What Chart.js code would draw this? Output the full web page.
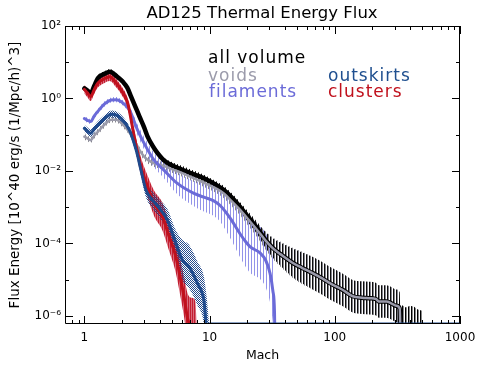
<!DOCTYPE html>
<html><head><meta charset="utf-8">
<script src="https://cdn.jsdelivr.net/npm/chart.js@4/dist/chart.umd.min.js"></script>
<style>
html,body{margin:0;padding:0;background:#fff;}
#wrap{position:relative;width:477px;height:365px;overflow:hidden;}
canvas{position:absolute;left:0;top:0;}
.t{position:absolute;font-family:"DejaVu Sans",sans-serif;white-space:nowrap;}
.lg{font-size:17px;line-height:17px;letter-spacing:1px;}
</style></head><body>
<div id="wrap">
<canvas id="c" width="477" height="365"></canvas>
<div class="t" style="left:62px;width:400px;text-align:center;top:5px;font-size:16.5px;line-height:16.5px;color:#000">AD125 Thermal Energy Flux</div>
<div class="t lg" style="left:208px;top:49px;color:#000">all volume</div>
<div class="t lg" style="left:208px;top:67px;color:#9b9bab">voids</div>
<div class="t lg" style="left:209px;top:83px;color:#6b6bd8">filaments</div>
<div class="t lg" style="left:328px;top:67px;color:#1f4f8f">outskirts</div>
<div class="t lg" style="left:328px;top:83px;color:#c0101c">clusters</div>
</div>
<script>
// ---------- data ----------
const machAll = [1.0,1.06,1.12,1.2,1.28,1.45,1.6,1.8,2.03,2.2,2.36,2.55,2.75,3.0,3.2,3.5,3.84,4.3,4.9,6.0,7.06,8.3,9.6,11.2,13.0,15.2,17.6,20.5,23.9,28,32.4,37,47,55,67,80,92,116,139,165,189,214,225,258,285,310,330,342];
const fluxAll = [1.9,1.66,1.38,2.24,3.63,4.79,5.5,4.17,2.88,2.0,1.12,0.60,0.32,0.16,0.089,0.050,0.031,0.020,0.0148,0.011,0.0087,0.0071,0.0056,0.0042,0.0030,0.00178,0.00100,5.2e-4,2.7e-4,1.25e-4,7.2e-5,5.0e-5,2.8e-5,2.1e-5,1.5e-5,1.07e-5,7.9e-6,5.2e-6,3.5e-6,3.2e-6,3.1e-6,2.9e-6,2.5e-6,2.5e-6,2.2e-6,1.9e-6,1.6e-6,1e-9];
const errAll  = [0.07,0.07,0.07,0.07,0.07,0.07,0.07,0.07,0.07,0.07,0.07,0.07,0.08,0.08,0.08,0.08,0.08,0.08,0.09,0.1,0.1,0.1,0.1,0.1,0.11,0.12,0.13,0.15,0.17,0.22,0.27,0.32,0.4,0.43,0.45,0.45,0.45,0.45,0.45,0.45,0.45,0.45,0.45,0.45,0.45,0.45,0.45,0];

const machVoids = [1.0,1.06,1.12,1.2,1.28,1.45,1.64,1.8,1.97,2.2,2.36,2.55,2.75,3.0,3.3,3.7,4.3,5.0,6.0,7.06,8.3,9.6,11.2,13.0,15.2,17.6,20.5,23.9,28,32.4,37,47,55,67,80,92,116,139,165,189,214,225,258,285,310,330,342];
const fluxVoids = [0.089,0.079,0.071,0.095,0.12,0.19,0.26,0.26,0.21,0.14,0.098,0.063,0.038,0.025,0.019,0.0158,0.0138,0.0112,0.0089,0.0069,0.0054,0.0043,0.0033,0.0024,0.0014,8.3e-4,4.5e-4,2.4e-4,1.2e-4,7.1e-5,5.0e-5,2.8e-5,2.1e-5,1.5e-5,1.07e-5,7.9e-6,5.2e-6,3.5e-6,3.2e-6,3.1e-6,2.9e-6,2.5e-6,2.5e-6,2.2e-6,1.9e-6,1.6e-6,1e-9];
const errVoids  = [0.08,0.08,0.08,0.08,0.08,0.08,0.08,0.08,0.08,0.08,0.08,0.08,0.09,0.1,0.1,0.1,0.1,0.1,0.1,0.1,0.11,0.12,0.12,0.13,0.14,0.15,0.18,0.2,0.25,0.3,0.35,0.42,0.45,0.45,0.45,0.45,0.45,0.45,0.45,0.45,0.45,0.45,0.45,0.45,0.45,0.45,0];

const machTail = [342,370,400,430,460,500];
const hiTail   = [2.0e-6,1.7e-6,1.9e-6,1.8e-6,1.5e-6,1.4e-6];

const machFil = [1.0,1.06,1.12,1.2,1.28,1.45,1.64,1.8,1.97,2.29,2.66,3.1,3.6,4.3,5.5,7.5,9.0,10.8,12.2,14.6,17.6,19.5,21.1,25.4,28,30.4,32,33,34];
const fluxFil = [0.28,0.25,0.23,0.33,0.44,0.71,0.91,0.93,0.81,0.48,0.135,0.047,0.020,0.0107,0.0046,0.0024,0.0019,0.0015,0.0011,5.0e-4,1.8e-4,1.1e-4,8.1e-5,5.4e-5,3.5e-5,1.5e-5,5.0e-6,1.26e-6,1e-9];
const errFil  = [0.07,0.07,0.07,0.07,0.07,0.07,0.07,0.07,0.07,0.1,0.15,0.18,0.2,0.22,0.3,0.35,0.4,0.42,0.45,0.55,0.65,0.7,0.72,0.72,0.75,0.8,0.9,1.0,0];

const machOut = [1.0,1.06,1.12,1.2,1.28,1.45,1.64,1.8,1.97,2.29,2.59,2.83,3.1,3.5,4.08,4.6,5.4,6.07,6.85,8.0,9.0,9.5,10,1000];
const fluxOut = [0.15,0.126,0.11,0.145,0.186,0.28,0.37,0.35,0.28,0.135,0.038,0.0107,0.0030,0.00158,8.3e-4,4.5e-4,1.0e-4,3.5e-5,2.3e-5,7.9e-6,2.75e-6,5e-7,6e-7,6e-7];
const errOut  = [0.1,0.1,0.1,0.1,0.1,0.1,0.1,0.1,0.1,0.1,0.12,0.15,0.2,0.22,0.25,0.3,0.35,0.55,0.6,0.6,0.65,0.8,0,0];

const machClu = [1.0,1.06,1.12,1.2,1.28,1.45,1.59,1.8,1.97,2.22,2.5,2.83,3.2,3.6,4.2,4.75,5.37,5.8,6.25,6.7,7.2,7.7,8.2];
const fluxClu = [1.78,1.41,1.12,1.78,2.63,3.55,3.98,2.63,1.70,0.74,0.089,0.0132,0.0037,0.00129,5.5e-4,1.55e-4,4.4e-5,1.26e-5,3.4e-6,8e-7,5e-7,4e-7,1e-9];
const errClu  = [0.12,0.12,0.12,0.12,0.12,0.12,0.12,0.12,0.12,0.13,0.18,0.25,0.3,0.35,0.38,0.4,0.45,0.5,0.55,0.7,0.8,0.8,0];

const xMajorTicks = [1,10,100,1000];
const xMinorTicks = [0.8,0.9,2,3,4,5,6,7,8,9,20,30,40,50,60,70,80,90,200,300,400,500,600,700,800,900];
const yMajorTicks = [1e-6,1e-4,1e-2,1,100];
const yMinorTicks = [1e-5,1e-3,0.1,10];

// ---------- helpers ----------
const FONT = '"DejaVu Sans", sans-serif';
const cv = document.getElementById('c');
const ctx0 = cv.getContext('2d');
function hatch(w,h,cells){
  const c=document.createElement('canvas'); c.width=w; c.height=h;
  const g=c.getContext('2d');
  cells.forEach(([x,y,col])=>{g.fillStyle=col; g.fillRect(x,y,1,1);});
  return ctx0.createPattern(c,'repeat');
}
const pts = (m,f)=>m.map((v,i)=>({x:v,y:f[i]}));
const lo = (m,f,e)=>m.map((v,i)=>({x:v,y:f[i]/Math.pow(10,e[i])}));
const hi = (m,f,e)=>m.map((v,i)=>({x:v,y:f[i]*Math.pow(10,e[i])}));

const COL = {all:'#000000', voids:'#9a9aaa', fil:'#6b6bd8', out:'#1f4a8c', clu:'#c0101c'};

const ds = [];
function add(d){ d.order = 100 - ds.length; ds.push(d); return ds.length-1; }
const base = {pointRadius:0, borderWidth:0, cubicInterpolationMode:'monotone', showLine:true};
function band(m,f,e,pattern){
  const iLo = add(Object.assign({}, base, {data:lo(m,f,e), fill:false}));
  add(Object.assign({}, base, {data:hi(m,f,e), fill:iLo, backgroundColor:pattern}));
}
band(machAll, fluxAll, errAll, hatch(3,1,[[0,0,'rgba(0,0,0,0.95)']]));
band(machVoids, fluxVoids, errVoids, hatch(3,1,[[1,0,'rgba(125,125,135,0.95)']]));
add(Object.assign({}, base, {data:pts(machTail,hiTail), fill:'start', backgroundColor:hatch(3,1,[[0,0,'#000'],[1,0,'#888']]), cubicInterpolationMode:'default', tension:0}));
band(machFil, fluxFil, errFil, hatch(3,1,[[2,0,'rgba(120,120,228,0.8)']]));
band(machClu, fluxClu, errClu, hatch(2,1,[[0,0,'rgba(192,18,38,0.95)'],[1,0,'rgba(206,70,90,0.8)']]));
band(machOut, fluxOut, errOut, hatch(2,2,[[0,0,'rgba(25,65,135,0.95)'],[1,1,'rgba(25,65,135,0.95)']]));
function line(m,f,color,w){ add(Object.assign({}, base, {data:pts(m,f), borderColor:color, borderWidth:w, fill:false, borderJoinStyle:'round', borderCapStyle:'round'})); }
line(machAll, fluxAll, COL.all, 4.5);
line(machVoids, fluxVoids, COL.voids, 2.5);
line(machFil, fluxFil, COL.fil, 3);
line(machClu, fluxClu, COL.clu, 3);
line(machOut, fluxOut, COL.out, 3);

const SUP = {'-':'\u207B','0':'\u2070','1':'\u00B9','2':'\u00B2','3':'\u00B3','4':'\u2074','5':'\u2075','6':'\u2076','7':'\u2077','8':'\u2078','9':'\u2079'};
const sup = s => String(s).split('').map(c=>SUP[c]).join('');

const frameTicks = {
  id:'frameTicks',
  afterDatasetsDraw(chart){
    const {ctx, chartArea:a, scales:{x,y}} = chart;
    ctx.save();
    ctx.strokeStyle='#000'; ctx.lineWidth=1;
    ctx.beginPath();
    ctx.rect(a.left+0.5, a.top+0.5, a.right-a.left-1, a.bottom-a.top-1);
    const vt=(v,len)=>{const p=Math.round(x.getPixelForValue(v))+0.5;
      ctx.moveTo(p,a.bottom); ctx.lineTo(p,a.bottom-len); ctx.moveTo(p,a.top); ctx.lineTo(p,a.top+len);};
    const ht=(v,len)=>{const p=Math.round(y.getPixelForValue(v))+0.5;
      ctx.moveTo(a.left,p); ctx.lineTo(a.left+len,p); ctx.moveTo(a.right,p); ctx.lineTo(a.right-len,p);};
    xMajorTicks.forEach(v=>vt(v,8)); xMinorTicks.forEach(v=>vt(v,4));
    yMajorTicks.forEach(v=>ht(v,8)); yMinorTicks.forEach(v=>ht(v,4));
    ctx.stroke();
    ctx.restore();
  }
};

new Chart(cv, {
  type:'line',
  data:{datasets:ds},
  plugins:[frameTicks],
  options:{
    responsive:false, animation:false, devicePixelRatio:1,
    layout:{padding:{left:0,right:17,top:26,bottom:0}},
    plugins:{legend:{display:false}, tooltip:{enabled:false}, title:{display:false}},
    elements:{line:{tension:0}},
    scales:{
      x:{type:'logarithmic', min:0.72, max:1000,
        grid:{display:false, drawTicks:false}, border:{display:false},
        afterBuildTicks:s=>{s.ticks=xMajorTicks.map(v=>({value:v}));},
        ticks:{autoSkip:false, maxRotation:0, padding:7, color:'#000', font:{family:FONT,size:12},
          callback:v=>String(v)},
        title:{display:true, text:'Mach', color:'#000', font:{family:FONT,size:12.5}, padding:{top:0,bottom:2}},
        afterFit:s=>{s.height=41; s.paddingLeft=0; s.paddingRight=0;}
      },
      y:{type:'logarithmic', min:6e-7, max:100,
        grid:{display:false, drawTicks:false}, border:{display:false},
        afterBuildTicks:s=>{s.ticks=yMajorTicks.map(v=>({value:v}));},
        ticks:{autoSkip:false, padding:4, color:'#000', font:{family:FONT,size:12},
          callback:v=>'10'+sup(Math.round(Math.log10(v)))},
        title:{display:true, text:'Flux Energy [10^40 erg/s (1/Mpc/h)^3]', color:'#000', font:{family:FONT,size:13.5}, padding:{top:7,bottom:0}},
        afterFit:s=>{s.width=65; s.paddingTop=0; s.paddingBottom=0;}
      }
    }
  }
});
</script>
</body></html>
